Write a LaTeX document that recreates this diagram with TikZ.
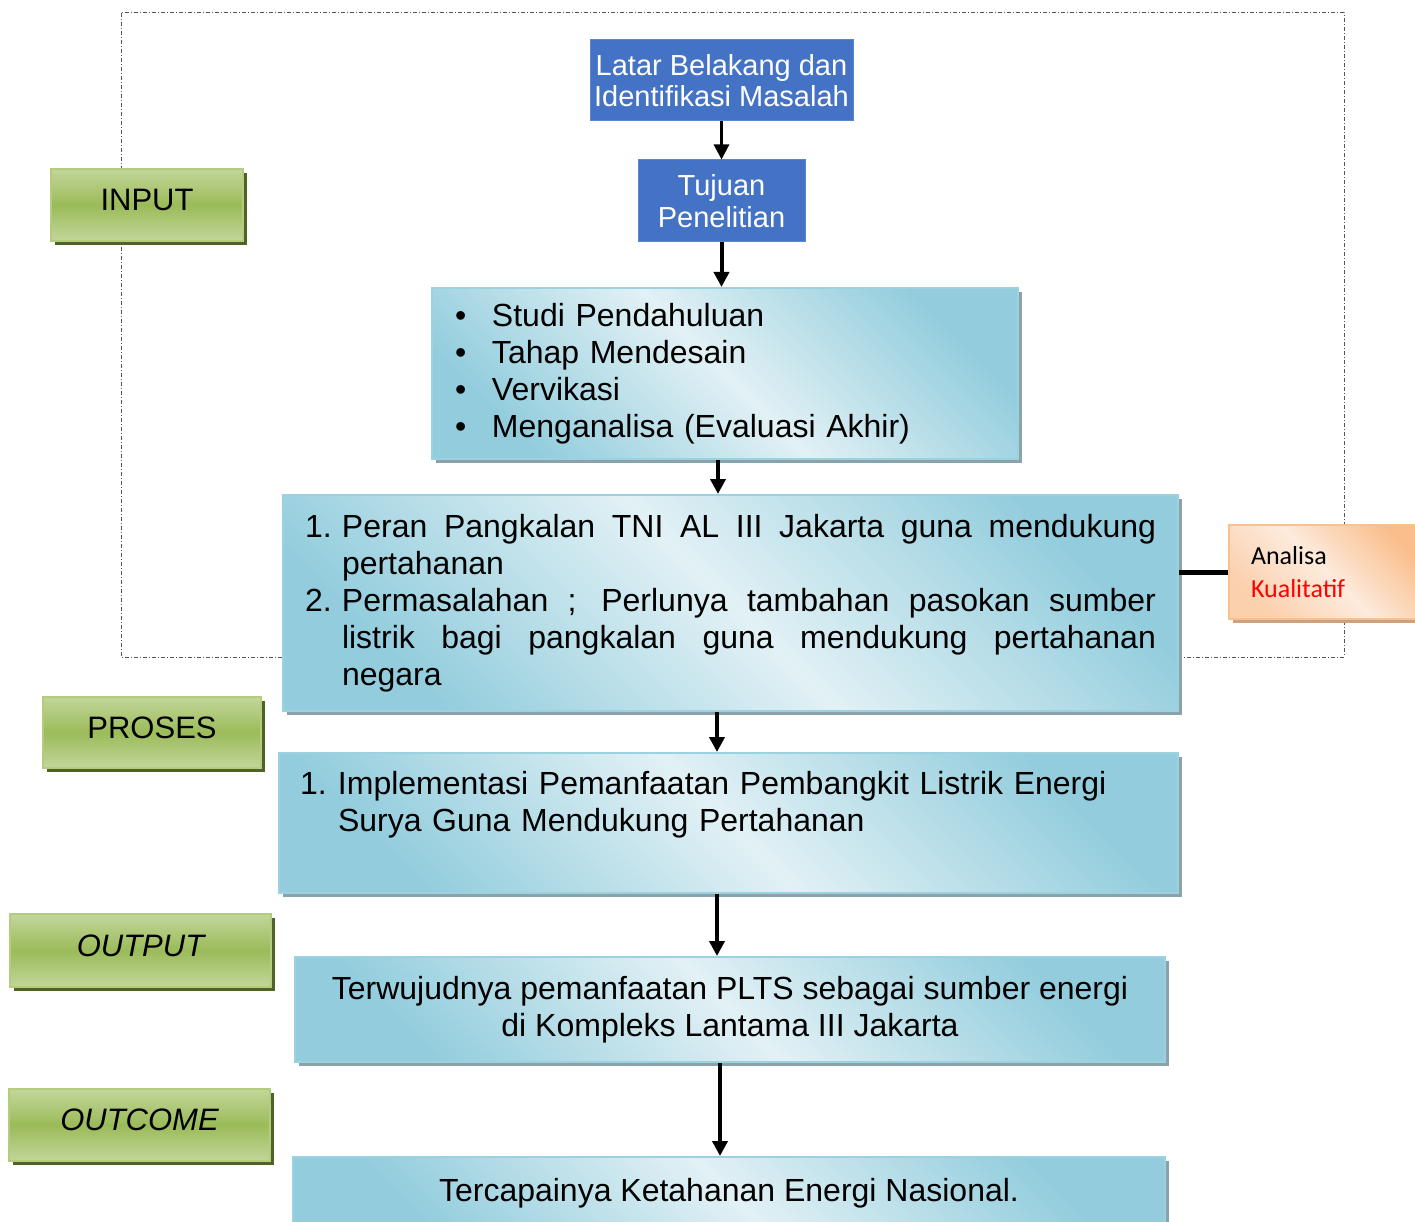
\documentclass[tikz,border=0pt]{standalone}
\usepackage{fontspec}
\setmainfont{Liberation Sans}
\newfontfamily\calib{Carlito}
\usetikzlibrary{shadows,arrows.meta}
\definecolor{dblue}{HTML}{4472C4}
\definecolor{dborder}{HTML}{5B86D0}
\definecolor{lbA}{HTML}{93CDDD}
\definecolor{lbB}{HTML}{E2F1F5}
\definecolor{lbBorder}{HTML}{9CD2E0}
\definecolor{lbShadow}{HTML}{8CA2AA}
\definecolor{gA}{HTML}{C3D69B}
\definecolor{gB}{HTML}{9BBB59}
\definecolor{gBorder}{HTML}{B3CC7E}
\definecolor{gShadow}{HTML}{4F6228}
\definecolor{oA}{HTML}{F9BE8C}
\definecolor{oB}{HTML}{FDEBDD}
\definecolor{oBorder}{HTML}{FAC090}
\definecolor{oShadow}{HTML}{C9A283}
\definecolor{kred}{HTML}{FF0000}
\definecolor{frameC}{HTML}{555555}
\begin{document}
\begin{tikzpicture}[x=1pt,y=-1pt,
  darkbox/.style={rectangle, fill=dblue, draw=dborder, line width=1pt, text=white,
    font=\fontsize{29}{31.5}\selectfont, align=center, inner sep=0pt},
  lightbox/.style={rectangle, draw=lbBorder, line width=2pt,
    top color=lbA, bottom color=lbA, middle color=lbB, shading angle=-45,
    drop shadow={shadow xshift=4pt, shadow yshift=-4pt, fill=lbShadow, opacity=1},
    font=\fontsize{32}{37}\selectfont, inner sep=0pt},
  greenbox/.style={rectangle, draw=gBorder, line width=2pt,
    top color=gA, bottom color=gA, middle color=gB,
    drop shadow={shadow xshift=4pt, shadow yshift=-4pt, fill=gShadow, opacity=1},
    font=\fontsize{31}{36}\selectfont, text depth=10pt, inner sep=0pt},
  orangebox/.style={rectangle, draw=oBorder, line width=1.5pt,
    top color=oA, bottom color=oA!60!oB, middle color=oB, shading angle=-45,
    drop shadow={shadow xshift=4pt, shadow yshift=-4pt, fill=oShadow, opacity=1}},
  arr/.style={line width=4pt, -{Triangle[width=15pt,length=15pt]}},
  frameline/.style={draw=frameC, line width=1pt, dash pattern=on 4pt off 2pt on 1pt off 2pt}
]
\useasboundingbox (0,0) rectangle (1415,1222);
\clip (0,0) rectangle (1415,1222);

% dashed frame
\draw[frameline] (121,13) rectangle (1344,657);

% top blue boxes
\node[darkbox, minimum width=263pt, minimum height=81pt] (lat) at (721.5,80.5)
  {Latar Belakang dan\\Identifikasi Masalah};
\node[darkbox, minimum width=167pt, minimum height=82pt] (tuj) at (721.5,201)
  {Tujuan\\Penelitian};

% bullet box
\node[lightbox, minimum width=586pt, minimum height=171pt, text width=534pt,
  inner xsep=26pt, align=left] (b3) at (725,373.5)
  {\makebox[34pt][l]{\hspace*{-3pt}\textbullet}Studi Pendahuluan\\
   \makebox[34pt][l]{\hspace*{-3pt}\textbullet}Tahap Mendesain\\
   \makebox[34pt][l]{\hspace*{-3pt}\textbullet}Vervikasi\\
   \makebox[34pt][l]{\hspace*{-3pt}\textbullet}Menganalisa (Evaluasi Akhir)};

% numbered box
\node[lightbox, minimum width=895pt, minimum height=216pt, text width=851pt,
  inner xsep=22pt, align=justify] (b4) at (730.5,603)
  {\hangindent=37pt\hangafter=1\noindent\makebox[37pt][l]{1.}Peran Pangkalan TNI AL III Jakarta guna mendukung\linebreak pertahanan\par
   \hangindent=37pt\hangafter=1\noindent\makebox[37pt][l]{2.}Permasalahan ; Perlunya tambahan pasokan sumber\linebreak listrik bagi pangkalan guna mendukung pertahanan\linebreak negara\par};

% analisa box
\node[orangebox, minimum width=196pt, minimum height=94pt, text width=152pt,
  inner xsep=22pt, inner ysep=0pt, align=left,
  font=\calib\fontsize{26}{33}\selectfont] (an) at (1327,572)
  {Analisa\\\textcolor{kred}{Kualitatif}};

% implementasi box
\node[lightbox, minimum width=899pt, minimum height=140pt, text width=857pt,
  inner xsep=21pt, align=left] (b5) at (728.5,823)
  {\parbox[c][104pt][t]{857pt}{\raggedright\hangindent=38pt\hangafter=1\noindent
   \makebox[38pt][l]{1.}Implementasi Pemanfaatan Pembangkit Listrik Energi\newline
   Surya Guna Mendukung Pertahanan\par}};

% output box
\node[lightbox, minimum width=870pt, minimum height=105pt, align=center] (b6) at (730,1009.5)
  {Terwujudnya pemanfaatan PLTS sebagai sumber energi\\di Kompleks Lantama III Jakarta};

% outcome box
\node[lightbox, minimum width=872pt, minimum height=72pt] (b7) at (729,1193)
  {\raisebox{6pt}{Tercapainya Ketahanan Energi Nasional.}};

% left labels
\node[greenbox, minimum width=192pt, minimum height=72pt] (inp) at (147,205) {INPUT};
\node[greenbox, minimum width=218pt, minimum height=71pt] (pro) at (152,732.5) {PROSES};
\node[greenbox, minimum width=261pt, minimum height=73pt] (outp) at (140.5,950.5) {\itshape OUTPUT};
\node[greenbox, minimum width=261pt, minimum height=72pt] (outc) at (139.5,1125) {\itshape OUTCOME};

% connectors
\coordinate (xa) at (718,0);
\coordinate (xb) at (717,0);
\coordinate (xc) at (720,0);
\draw[arr, line width=3pt] (lat.south) -- (tuj.north);
\draw[arr] (tuj.south) -- (tuj.south |- b3.north);
\draw[arr] (xa |- b3.south) -- (xa |- b4.north);
\draw[arr] (xb |- b4.south) -- (xb |- b5.north);
\draw[arr] (xb |- b5.south) -- (xb |- b6.north);
\draw[arr] (xc |- b6.south) -- (xc |- b7.north);
\draw[line width=5pt] (b4.east |- an.west) -- (an.west);
\end{tikzpicture}
\end{document}
